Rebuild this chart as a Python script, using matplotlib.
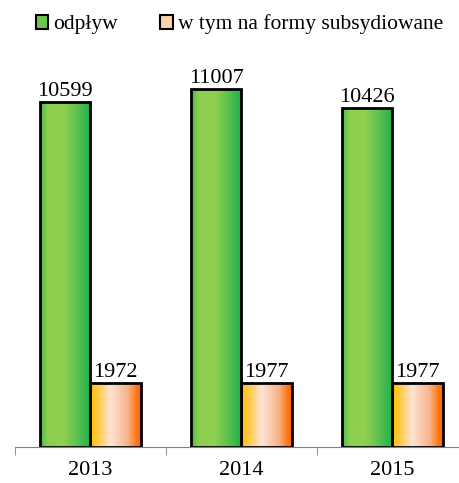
import numpy as np
import matplotlib
matplotlib.use("Agg")
import matplotlib.pyplot as plt
from matplotlib.colors import LinearSegmentedColormap
from matplotlib.patches import Rectangle

years = ["2013", "2014", "2015"]
odplyw = [10599, 11007, 10426]
subsydiowane = [1972, 1977, 1977]
series_names = ["odpływ", "w tym na formy subsydiowane"]

plt.rcParams['font.family'] = 'Liberation Serif'

green_cm = LinearSegmentedColormap.from_list(
    "g", [(0.0, "#4cb848"), (0.15, "#8ccf4f"), (0.45, "#92d050"),
          (0.72, "#5ec34e"), (1.0, "#1eaf4c")])
orange_cm = LinearSegmentedColormap.from_list(
    "o", [(0.0, "#ffbf00"), (0.15, "#ffca40"), (0.4, "#fde4d6"),
          (0.75, "#f7b286"), (0.9, "#ff7a1a"), (1.0, "#ff6200")])

fig = plt.figure(figsize=(4.6, 4.83), dpi=100)
ax = fig.add_axes([15 / 460, 36 / 483, 453 / 460, 390.6 / 483])

x = np.arange(len(years))
w = 0.335
grad = np.linspace(0, 1, 256).reshape(1, -1)


def gbar(xl, h, cmap):
    im = ax.imshow(grad, cmap=cmap, aspect="auto", extent=[xl, xl + w, 0, h], zorder=2)
    r = Rectangle((xl, 0), w, h, facecolor="none", edgecolor="black", lw=2, zorder=3)
    ax.add_patch(r)
    im.set_clip_path(r)


for i in range(len(years)):
    gbar(x[i] - w, odplyw[i], green_cm)
    gbar(x[i], subsydiowane[i], orange_cm)
    ax.text(x[i] - w / 2, odplyw[i] + 20, str(odplyw[i]), ha="center", va="bottom", fontsize=16)
    ax.text(x[i] + w / 2, subsydiowane[i] + 20, str(subsydiowane[i]), ha="center", va="bottom", fontsize=16)

ax.set_xlim(-0.5, 2.5)
ax.set_ylim(0, 12000)
for s in ["left", "right", "top"]:
    ax.spines[s].set_visible(False)
ax.spines["bottom"].set_color("#808080")
ax.set_yticks([])
ax.set_xticks(x)
ax.set_xticklabels(years, fontsize=16)
ax.set_xticks([-0.5, 0.5, 1.5, 2.5], minor=True)
ax.tick_params(axis="x", which="major", length=0, pad=10)
ax.tick_params(axis="x", which="minor", length=6, color="#808080", direction="out")

handles = [Rectangle((0, 0), 1, 1, facecolor="#6cc84d", edgecolor="black", lw=1.5),
           Rectangle((0, 0), 1, 1, facecolor="#fbd3a8", edgecolor="black", lw=1.5)]
fig.legend(handles, series_names, loc="upper center", bbox_to_anchor=(0.52, 1.01), ncol=2,
           frameon=False, fontsize=15.5, handlelength=0.6, handleheight=0.6,
           handletextpad=0.2, columnspacing=2.0)

fig.savefig("out.png", dpi=100)
